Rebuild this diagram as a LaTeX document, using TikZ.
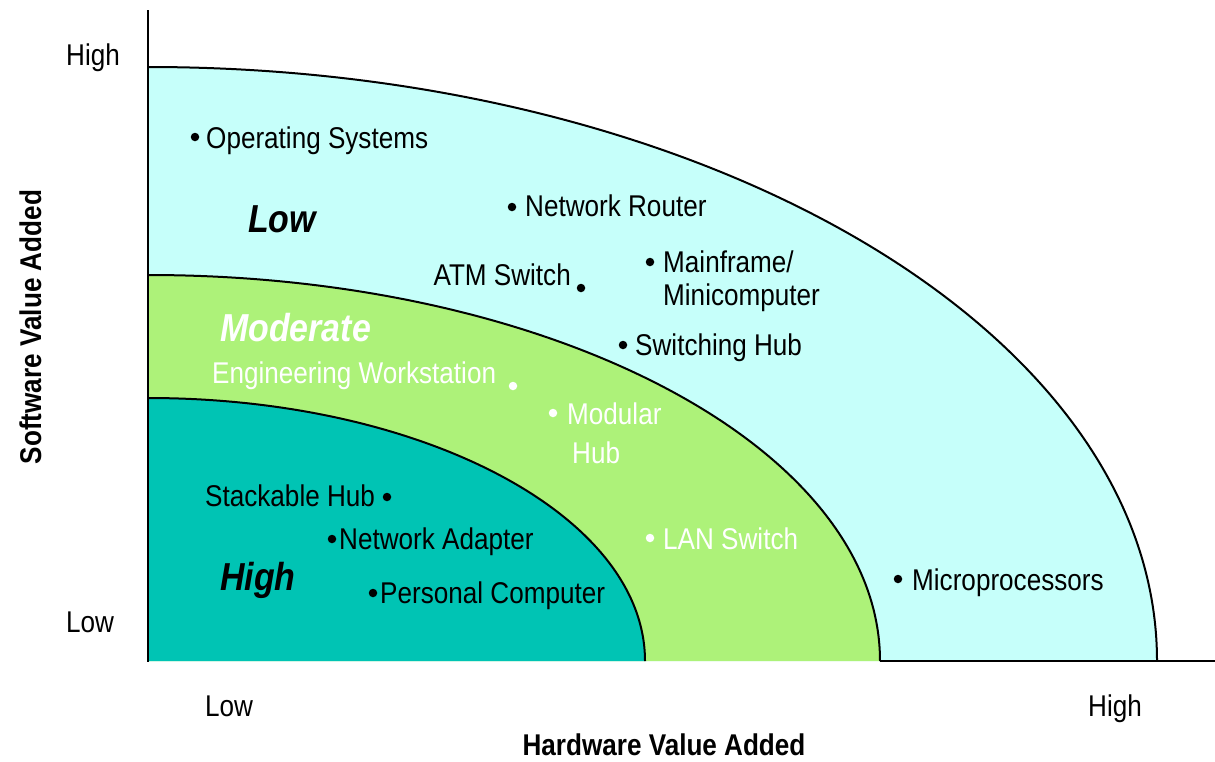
\documentclass[tikz,border=0pt]{standalone}
\usepackage{fontspec}
\setmainfont{Liberation Sans}[FakeStretch=0.87]
\definecolor{lowfill}{RGB}{198,255,250}
\definecolor{modfill}{RGB}{173,242,121}
\definecolor{highfill}{RGB}{0,196,180}
\tikzset{
  lbl/.style={inner sep=0pt, anchor=base west, font=\fontsize{30}{34}\selectfont},
  bigl/.style={inner sep=0pt, anchor=base west, font=\fontsize{39}{44}\selectfont\bfseries\itshape},
  axt/.style={inner sep=0pt, anchor=base, font=\fontsize{30}{34}\selectfont\bfseries},
  dotb/.style={circle, fill=black, inner sep=0pt, minimum size=8.5pt},
  dotw/.style={circle, fill=white, inner sep=0pt, minimum size=8.5pt},
  regionline/.style={line width=2pt, black},
}
\begin{document}
\begin{tikzpicture}[x=1pt,y=1pt]
\useasboundingbox (0,0) rectangle (1215,-761);
% regions
\fill[lowfill] (148,-661) -- (148,-67) arc[start angle=90, end angle=0, x radius=1009, y radius=594] -- cycle;
\draw[regionline] (148,-67) arc[start angle=90, end angle=0, x radius=1009, y radius=594];
\fill[modfill] (148,-661) -- (148,-275) arc[start angle=90, end angle=0, x radius=732, y radius=386] -- cycle;
\draw[regionline] (148,-275) arc[start angle=90, end angle=0, x radius=732, y radius=386];
\fill[highfill] (148,-661) -- (148,-398) arc[start angle=90, end angle=0, x radius=497, y radius=263] -- cycle;
\draw[regionline] (148,-398) arc[start angle=90, end angle=0, x radius=497, y radius=263];
% axes
\coordinate (ytop) at (148,-10);
\coordinate (orig) at (148,-662);
\coordinate (xstart) at (880,-661);
\coordinate (xend) at (1215,-661);
\draw[line width=2pt] (ytop) -- (orig);
\draw[line width=2pt] (xstart) -- (xend);
% axis labels
\node[lbl] (yhigh) at (66,-65) {High};
\node[lbl] (ylow) at (66,-632) {Low};
\node[lbl] (xlow) at (205,-716) {Low};
\node[lbl] (xhigh) at (1088,-716) {High};
\node[axt] (xtitle) at (664,-755) {Hardware Value Added};
\node[axt, rotate=90] (ytitle) at (41,-327) {Software Value Added};
% region labels
\node[bigl] (lowlbl) at (248,-232) {Low};
\node[bigl, text=white] (modlbl) at (220,-341) {Moderate};
\node[bigl] (highlbl) at (220,-590) {High};
% items
\node[dotb] (osd) at (195,-137) {};
\node[lbl] (os) at (206,-148) {Operating Systems};
\node[dotb] (routerd) at (512,-207) {};
\node[lbl] (router) at (525,-216) {Network Router};
\node[lbl, anchor=base east] (atm) at (571,-285) {ATM Switch};
\node[dotb] (atmd) at (581,-288) {};
\node[dotb] (mfd) at (650,-262) {};
\node[lbl] (mf1) at (663,-272) {Mainframe/};
\node[lbl] (mf2) at (663,-305) {Minicomputer};
\node[dotb] (swd) at (623,-345) {};
\node[lbl] (sw) at (635,-355) {Switching Hub};
\node[lbl, text=white] (ews) at (212,-383) {Engineering Workstation};
\node[dotw] (ewsd) at (513,-386) {};
\node[dotw] (modd) at (553,-413) {};
\node[lbl, text=white] (mod1) at (567,-424) {Modular};
\node[lbl, text=white] (mod2) at (572,-463) {Hub};
\node[lbl] (stack) at (205,-506) {Stackable Hub};
\node[dotb] (stackd) at (387,-497) {};
\node[dotb] (nad) at (332,-539) {};
\node[lbl] (na) at (339,-549) {Network Adapter};
\node[dotb] (pcd) at (373,-593) {};
\node[lbl] (pc) at (380,-603) {Personal Computer};
\node[dotw] (land) at (650,-538) {};
\node[lbl, text=white] (lan) at (663,-549) {LAN Switch};
\node[dotb] (mpd) at (898,-579) {};
\node[lbl] (mp) at (912,-590) {Microprocessors};
\end{tikzpicture}
\end{document}
